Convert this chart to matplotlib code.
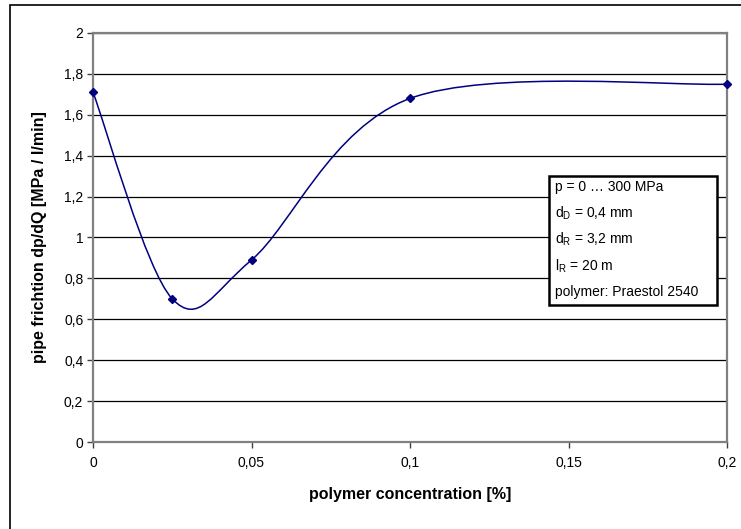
import numpy as np
import matplotlib
matplotlib.use("Agg")
import matplotlib.pyplot as plt
from matplotlib.path import Path
from matplotlib.patches import PathPatch, Rectangle

plt.rcParams['font.family'] = ['Liberation Sans', 'DejaVu Sans']
plt.rcParams['mathtext.fontset'] = 'custom'
plt.rcParams['mathtext.rm'] = 'Liberation Sans'
plt.rcParams['mathtext.it'] = 'Liberation Sans'

# data
conc = [0.0, 0.025, 0.05, 0.1, 0.2]
friction = [1.71, 0.70, 0.89, 1.68, 1.75]

xticks = [0, 0.05, 0.1, 0.15, 0.2]
xticklabels = ['0', '0,05', '0,1', '0,15', '0,2']
yticks = [0, 0.2, 0.4, 0.6, 0.8, 1.0, 1.2, 1.4, 1.6, 1.8, 2.0]
yticklabels = ['0', '0,2', '0,4', '0,6', '0,8', '1', '1,2', '1,4', '1,6', '1,8', '2']

box_lines = ['p = 0 … 300 MPa',
             r'd$_\mathrm{D}$ = 0,4 mm',
             r'd$_\mathrm{R}$ = 3,2 mm',
             r'l$_\mathrm{R}$ = 20 m',
             'polymer: Praestol 2540']

navy = '#000080'

fig = plt.figure(figsize=(7.41, 5.29), dpi=100)
ax = fig.add_axes([93/741, 87/529, 634/741, 409/529])
ax.set_xlim(0, 0.2)
ax.set_ylim(0, 2)

# smoothed line like the spreadsheet (catmull-rom -> bezier)
pts = np.column_stack([conc, friction])
n = len(pts)
verts = [pts[0]]
codes = [Path.MOVETO]
for i in range(n - 1):
    p0 = pts[i - 1] if i > 0 else pts[i]
    p1 = pts[i]
    p2 = pts[i + 1]
    p3 = pts[i + 2] if i + 2 < n else pts[i + 1]
    c1 = p1 + (p2 - p0) / 6.0
    c2 = p2 - (p3 - p1) / 6.0
    verts += [c1, c2, p2]
    codes += [Path.CURVE4] * 3
ax.add_patch(PathPatch(Path(verts, codes), facecolor='none', edgecolor=navy,
                       lw=1.1, zorder=3))
ax.plot(conc, friction, linestyle='none', marker='D', markersize=4.5,
        color=navy, zorder=4, clip_on=False)

ax.set_yticks(yticks)
ax.set_yticklabels(yticklabels, fontsize=10)
ax.set_xticks(xticks)
ax.set_xticklabels(xticklabels, fontsize=10)
ax.tick_params(axis='both', direction='out', length=4, width=1, color='#404040', pad=3)
ax.tick_params(axis='x', pad=6)
ax.grid(axis='y', color='black', lw=0.9)
ax.set_axisbelow(True)
for s in ax.spines.values():
    s.set_color('#808080')
    s.set_linewidth(1.6)

ax.set_ylabel('pipe frichtion dp/dQ [MPa / l/min]', fontsize=11.5, fontweight='bold', labelpad=12)
ax.set_xlabel('polymer concentration [%]', fontsize=11.5, fontweight='bold', labelpad=12)

# annotation box
bx0, by0 = (549 - 93) / 634, (442 - 305) / 409
bw, bh = (717 - 549) / 634, (305 - 176) / 409
ax.add_patch(Rectangle((bx0, by0), bw, bh, transform=ax.transAxes,
                       facecolor='white', edgecolor='black', lw=1.8, zorder=5))
for k, line in enumerate(box_lines):
    ypix = 187 + k * 26.3
    ax.text(bx0 + 6 / 634, (442 - ypix) / 409, line, transform=ax.transAxes,
            fontsize=10, va='center', ha='left', zorder=6)

# outer chart border (left and top visible)
fig.add_artist(Rectangle((10 / 741, -0.1), 1.2, (529 - 5) / 529 + 0.1,
                         transform=fig.transFigure, facecolor='none',
                         edgecolor='black', lw=1.2))

fig.savefig('out.png', dpi=100)
